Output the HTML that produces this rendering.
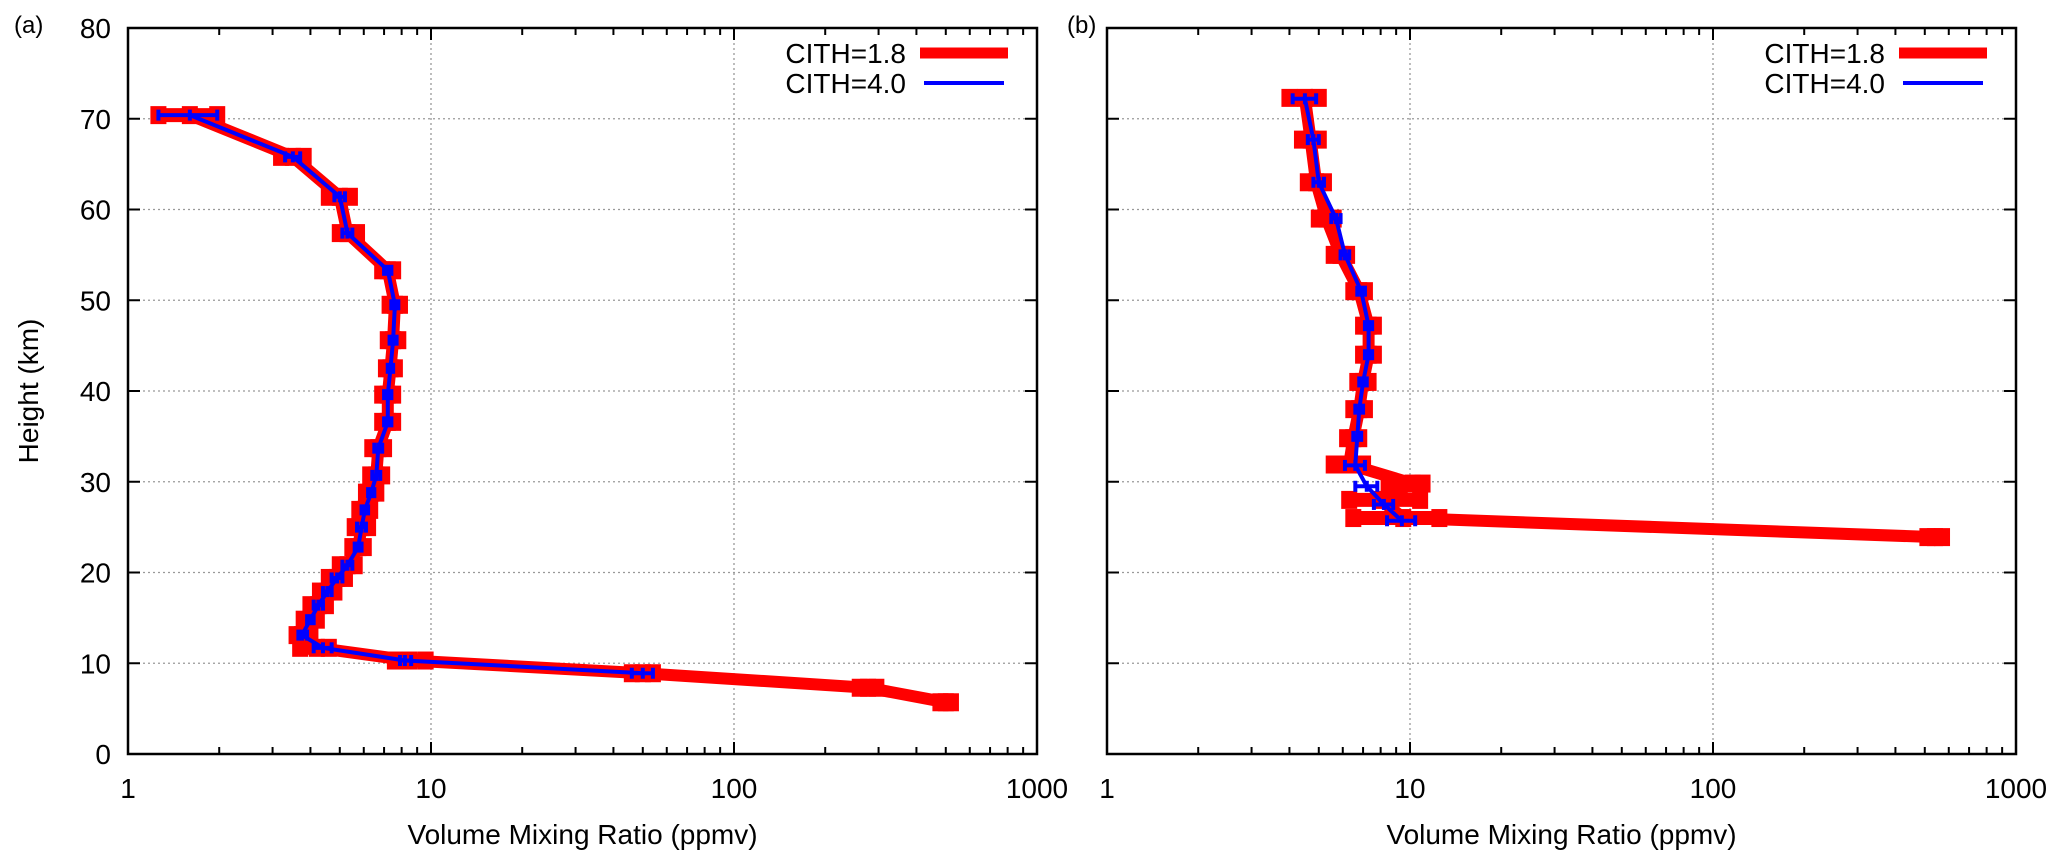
<!DOCTYPE html>
<html><head><meta charset="utf-8"><style>
html,body{margin:0;padding:0;background:#fff;}
svg{display:block;font-family:"Liberation Sans",sans-serif;}
</style></head><body>
<svg id="chart" width="2067" height="866" viewBox="0 0 2067 866" xmlns="http://www.w3.org/2000/svg"></svg>
<script>
// Panel (a) data
const aRedVals = [1.6,3.5,5.0,5.3,7.2,7.6,7.5,7.35,7.2,7.2,6.7,6.6,6.35,6.05,5.9,5.75,5.3,4.9,4.55,4.25,4.0,3.75,4.2,8.5,50,277,500];
const aRedH    = [70.4,65.8,61.4,57.4,53.3,49.5,45.6,42.5,39.6,36.6,33.7,30.7,28.8,26.9,25.0,22.8,20.8,19.4,17.9,16.4,14.8,13.1,11.7,10.3,8.9,7.3,5.7];
const aRedLo   = [1.26,3.2,4.6,5.0,6.9,7.3,7.2,7.1,6.9,6.9,6.4,6.3,6.1,5.8,5.6,5.5,5.0,4.6,4.3,4.0,3.8,3.6,3.7,7.6,46,260,480];
const aRedHi   = [1.97,3.8,5.4,5.7,7.5,7.9,7.8,7.6,7.5,7.5,7.0,6.9,6.6,6.3,6.2,6.0,5.6,5.2,4.8,4.5,4.2,4.0,4.6,9.6,54,295,520];
const aBlueVals = [1.6,3.5,5.0,5.3,7.2,7.6,7.5,7.35,7.2,7.2,6.7,6.6,6.35,6.05,5.9,5.75,5.3,4.9,4.55,4.25,4.0,3.75,4.4,8.2,50];
const aBlueH    = [70.4,65.8,61.4,57.4,53.3,49.5,45.6,42.5,39.6,36.6,33.7,30.7,28.8,26.9,25.0,22.8,20.8,19.4,17.9,16.4,14.8,13.1,11.7,10.3,8.9];
const aBlueLo   = [1.26,3.3,4.8,5.1,7.0,7.4,7.3,7.2,7.0,7.0,6.5,6.4,6.2,5.9,5.7,5.6,5.1,4.7,4.4,4.1,3.9,3.65,4.1,7.9,46];
const aBlueHi   = [1.97,3.7,5.2,5.5,7.4,7.8,7.7,7.5,7.4,7.4,6.9,6.8,6.5,6.2,6.1,5.9,5.5,5.1,4.7,4.4,4.1,3.9,4.7,8.6,54];
// Panel (b) data
const bRedVals = [4.5,4.7,4.9,5.3,5.9,6.8,7.3,7.3,7.0,6.8,6.5,6.3,10.2,8.0,9.5,540];
const bRedH    = [72.3,67.7,63.0,59.0,55.0,51.0,47.2,44.0,41.0,38.0,34.8,31.9,29.8,28.0,26.0,23.9];
const bRedLo   = [4.0,4.4,4.6,5.0,5.6,6.5,7.0,7.0,6.7,6.5,6.2,5.6,8.5,6.3,6.5,510];
const bRedHi   = [5.0,5.0,5.2,5.6,6.2,7.1,7.6,7.6,7.3,7.1,6.8,7.0,11.0,10.8,12.5,570];
const bBlueVals = [4.5,4.8,5.0,5.7,6.1,6.9,7.3,7.3,7.0,6.8,6.7,6.6,7.2,8.2,9.4];
const bBlueH    = [72.2,67.7,63.0,59.0,55.0,51.0,47.2,44.0,41.0,38.0,35.0,31.8,29.5,27.5,25.7];
const bBlueLo   = [4.1,4.6,4.8,5.5,5.9,6.7,7.1,7.1,6.8,6.6,6.5,6.1,6.6,7.6,8.4];
const bBlueHi   = [4.9,5.0,5.2,5.9,6.3,7.1,7.5,7.5,7.2,7.0,6.9,7.1,7.8,8.8,10.4];
const xTickLabels = ["1","10","100","1000"];
const yTickLabels = ["0","10","20","30","40","50","60","70","80"];

const NS = "http://www.w3.org/2000/svg";
const svg = document.getElementById("chart");
function mk(tag, attrs, parent, text){
  const e = document.createElementNS(NS, tag);
  for (const k in attrs) e.setAttribute(k, attrs[k]);
  if (text !== undefined) e.textContent = text;
  (parent||svg).appendChild(e);
  return e;
}
const TOP = 28, BOT = 754, DEC = 303;
function yS(h){ return BOT - (BOT-TOP)*h/80; }

function panel(left, label, labelX, showY, red, blue, name){
  const g = mk("g", {});
  
  
  const right = left + 3*DEC;
  const xS = v => left + DEC*Math.log10(v);
  for (let i=1;i<=2;i++){
    const l = mk("line",{x1:left+i*DEC,x2:left+i*DEC,y1:TOP,y2:BOT,stroke:"#999","stroke-width":1.3,"stroke-dasharray":"2,3"},g);
    
    
  }
  for (let i=1;i<=7;i++){
    const y = yS(i*10);
    const l = mk("line",{x1:left,x2:right,y1:y,y2:y,stroke:"#999","stroke-width":1.3,"stroke-dasharray":"2,3"},g);
    
    
  }
  for (let d=0; d<3; d++){
    for (let m=1; m<=9; m++){
      const x = left + DEC*(d + Math.log10(m));
      const len = m===1 ? 12 : 7;
      if (m===1 && d===0) continue;
      mk("line",{x1:x,x2:x,y1:BOT,y2:BOT-len,stroke:"#000","stroke-width":2},g);
      mk("line",{x1:x,x2:x,y1:TOP,y2:TOP+len,stroke:"#000","stroke-width":2},g);
    }
  }
  for (let i=1;i<=7;i++){
    const y=yS(i*10);
    mk("line",{x1:left,x2:left+12,y1:y,y2:y,stroke:"#000","stroke-width":2},g);
    mk("line",{x1:right,x2:right-12,y1:y,y2:y,stroke:"#000","stroke-width":2},g);
  }
  const f = mk("rect",{x:left,y:TOP,width:3*DEC,height:BOT-TOP,fill:"none",stroke:"#000","stroke-width":2.5},g);
  
  
  xTickLabels.forEach((t,i)=>{
    const e = mk("text",{x:left+i*DEC,y:798,"text-anchor":"middle","font-size":28},g,t);
    
    
  });
  if (showY){
    yTickLabels.forEach((t,i)=>{
      const e = mk("text",{x:left-17,y:yS(i*10)+10,"text-anchor":"end","font-size":28},g,t);
      
      
    });
    const yt = mk("text",{x:0,y:0,"text-anchor":"middle","font-size":28,transform:"translate(38,391) rotate(-90)"},g,"Height (km)");
    
    
  }
  const xt = mk("text",{x:left+1.5*DEC,y:844,"text-anchor":"middle","font-size":28},g,"Volume Mixing Ratio (ppmv)");
  
  
  const pl = mk("text",{x:labelX,y:33,"font-size":24},g,label);
  
  

  function series(vals,hs,lo,hi,color,lw,capH,capW,barW,sname){
    const sg = mk("g",{},g);
    
    
    const pts = vals.map((v,i)=>xS(v).toFixed(1)+","+yS(hs[i]).toFixed(1)).join(" ");
    const p = mk("polyline",{points:pts,fill:"none",stroke:color,"stroke-width":lw,"stroke-linejoin":"miter"},sg);
    
    
    vals.forEach((v,i)=>{
      const y = yS(hs[i]), x1 = xS(lo[i]), x2 = xS(hi[i]);
      const b = mk("line",{x1:x1,x2:x2,y1:y,y2:y,stroke:color,"stroke-width":barW},sg);
      
      
      mk("rect",{x:x1-capW/2,y:y-capH/2,width:capW,height:capH,fill:color},sg);
      mk("rect",{x:x2-capW/2,y:y-capH/2,width:capW,height:capH,fill:color},sg);
      mk("rect",{x:xS(v)-capW/2,y:y-capH/2,width:capW,height:capH,fill:color},sg);
    });
  }
  series(red.v,red.h,red.lo,red.hi,"#ff0000",12,18,16,14,"series-cith-1-8");
  series(blue.v,blue.h,blue.lo,blue.hi,"#0000ff",4,11,4,4,"series-cith-4-0");

  const lg = mk("g",{},g);
  
  
  const t1 = mk("text",{x:right-131,y:63,"text-anchor":"end","font-size":28},lg,"CITH=1.8");
  
  
  mk("line",{x1:right-117,x2:right-29,y1:53,y2:53,stroke:"#ff0000","stroke-width":11},lg);
  const t2 = mk("text",{x:right-131,y:93,"text-anchor":"end","font-size":28},lg,"CITH=4.0");
  
  
  mk("line",{x1:right-113,x2:right-33,y1:83,y2:83,stroke:"#0000ff","stroke-width":4},lg);
}
panel(128,"(a)",14,true,
  {v:aRedVals,h:aRedH,lo:aRedLo,hi:aRedHi},
  {v:aBlueVals,h:aBlueH,lo:aBlueLo,hi:aBlueHi},"panel-a");
panel(1107,"(b)",1067,false,
  {v:bRedVals,h:bRedH,lo:bRedLo,hi:bRedHi},
  {v:bBlueVals,h:bBlueH,lo:bBlueLo,hi:bBlueHi},"panel-b");
</script>
</body></html>
